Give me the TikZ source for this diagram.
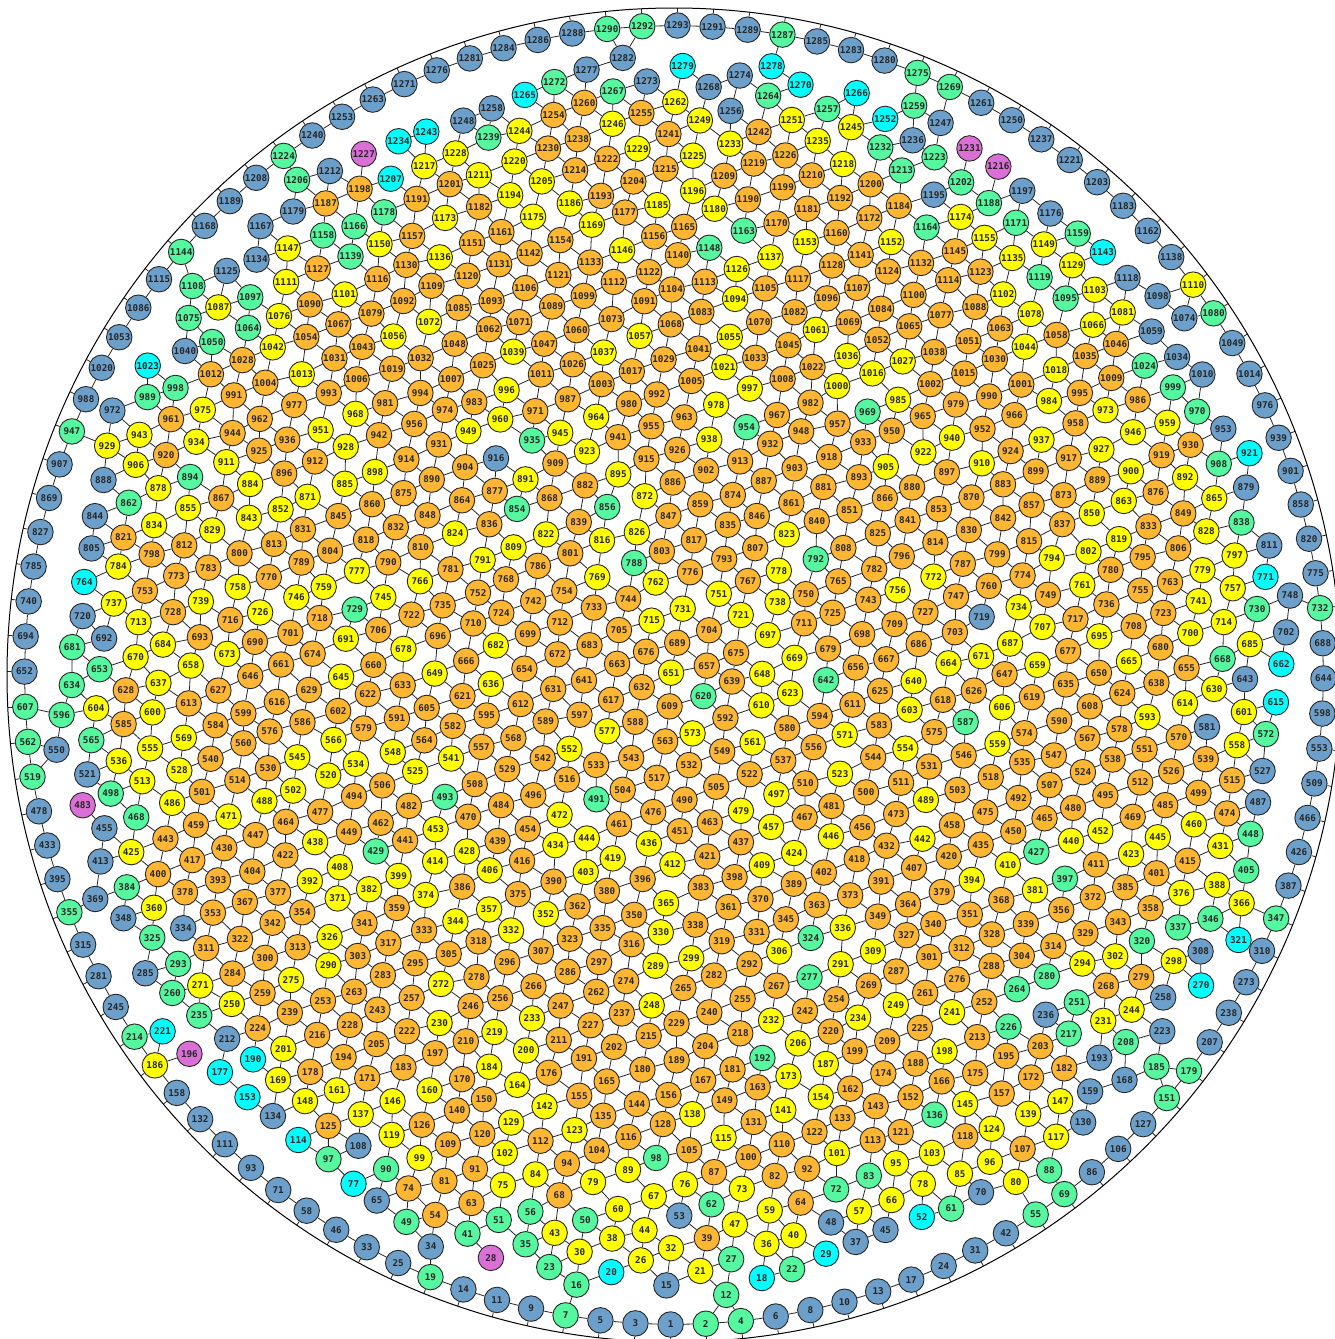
\documentclass[tikz,border=0pt]{standalone}
\usepackage{fontspec}
\newfontfamily\lblfont{DejaVu Sans Mono}
\pgfdeclarelayer{bg}
\pgfsetlayers{bg,main}
\definecolor{deg0}{HTML}{FF1493}
\definecolor{deg1}{HTML}{DA70D6}
\definecolor{deg2}{HTML}{00FFFF}
\definecolor{deg3}{HTML}{6CA0CB}
\definecolor{deg4}{HTML}{55F79F}
\definecolor{deg5}{HTML}{FFFF00}
\definecolor{deg6}{HTML}{FFB733}
\ExplSyntaxOn
\int_const:Nn \c_rs_n_int {1293}
\int_const:Nn \c_rs_ma_int {116}
\int_const:Nn \c_rs_l_int { \c_rs_n_int - \c_rs_ma_int }
\int_const:Nn \c_rs_astart_int { \c_rs_l_int }
\fp_const:Nn \c_rs_cx_fp {674}
\fp_const:Nn \c_rs_cy_fp {675}
\fp_const:Nn \c_rs_rw_fp {667}
\fp_const:Nn \c_rs_ra_fp {649.5}
\fp_const:Nn \c_rs_s_fp {34.4}
\fp_const:Nn \c_rs_rot_fp {-21}
\fp_const:Nn \c_rs_jit_fp {3}
\fp_const:Nn \c_rs_t_fp {38.2}
\fp_const:Nn \c_rs_tr_fp {36}
\fp_const:Nn \c_rs_offa_fp {0.3}
\fp_const:Nn \c_rs_pmax_fp {0.3}
\fp_new:N \l_rs_u_fp
\fp_new:N \l_rs_v_fp
\fp_new:N \l_rs_r_fp
\fp_new:N \l_rs_p_fp
\fp_new:N \l_rs_a_fp
\int_new:N \l_rs_i_int
\int_new:N \l_rs_j_int
\int_new:N \l_rs_k_int
\int_new:N \l_rs_cnt_int
\fparray_new:Nn \g_rs_x_fparray {1293}
\fparray_new:Nn \g_rs_y_fparray {1293}
\intarray_new:Nn \g_rs_deg_intarray {1293}
\intarray_new:Nn \g_rs_lab_intarray {1293}
\intarray_new:Nn \g_rs_gi_intarray {1293}
\intarray_new:Nn \g_rs_gj_intarray {1293}
\intarray_new:Nn \g_rs_cell_intarray {2745}
\seq_new:N \g_rs_edges_seq
\seq_new:N \l_rs_sort_seq
\seq_new:N \l_rs_cand_seq

\cs_new:Npn \rs_frac:n #1 { ( (#1) - floor(#1) ) }
\cs_new:Npn \rs_hash:n #1 { \rs_frac:n { 43758.5453 * abs( sin( (#1) * 12.9898 + 1.2345 ) ) } }
\cs_new:Npn \rs_rsq:n #1
  { ( ( \fparray_item:Nn \g_rs_x_fparray {#1} - \c_rs_cx_fp )^2
      + ( \fparray_item:Nn \g_rs_y_fparray {#1} - \c_rs_cy_fp )^2 ) }

% ---- outer ring (touching the wall)
\int_step_inline:nn { \c_rs_ma_int }
  {
    \fp_set:Nn \l_rs_a_fp { \c_rs_offa_fp + (#1 - 1) * 360 / \c_rs_ma_int }
    \fparray_gset:Nnn \g_rs_x_fparray { \c_rs_astart_int + #1 } { \c_rs_cx_fp + \c_rs_ra_fp * cosd(\l_rs_a_fp) }
    \fparray_gset:Nnn \g_rs_y_fparray { \c_rs_astart_int + #1 } { \c_rs_cy_fp + \c_rs_ra_fp * sind(\l_rs_a_fp) }
    \intarray_gset:Nnn \g_rs_deg_intarray { \c_rs_astart_int + #1 } { 1 }
  }

% ---- hexagonal core
\int_step_inline:nnnn { -22 } { 1 } { 22 }
  {
    \int_step_inline:nnnn { -30 } { 1 } { 30 }
      {
        \fp_set:Nn \l_rs_u_fp { \c_rs_s_fp * ( (##1) + (#1) / 2 ) }
        \fp_set:Nn \l_rs_v_fp { \c_rs_s_fp * 0.8660254 * (#1) }
        \fp_set:Nn \l_rs_r_fp { sqrt( \l_rs_u_fp^2 + \l_rs_v_fp^2 ) }
        \fp_compare:nNnT { \l_rs_r_fp } < { 640 }
          {
            \seq_put_right:Nx \l_rs_cand_seq
              { { \fp_eval:n { \l_rs_r_fp } } { \int_eval:n { ##1 } } { \int_eval:n { #1 } } }
          }
      }
  }
\seq_sort:Nn \l_rs_cand_seq
  {
    \fp_compare:nNnTF { \use_i:nnn #1 } > { \use_i:nnn #2 }
      { \sort_return_swapped: } { \sort_return_same: }
  }
\cs_new_protected:Npn \rs_place:nnnn #1#2#3#4
  {
    \intarray_gset:Nnn \g_rs_cell_intarray { (#3 + 30) * 45 + #4 + 22 + 1 } {#1}
    \intarray_gset:Nnn \g_rs_gi_intarray {#1} { #3 + 100 }
    \intarray_gset:Nnn \g_rs_gj_intarray {#1} { #4 + 100 }
    \fp_set:Nn \l_rs_u_fp { \c_rs_s_fp * ( (#3) + (#4) / 2 ) }
    \fp_set:Nn \l_rs_v_fp { \c_rs_s_fp * 0.8660254 * (#4) }
    \fparray_gset:Nnn \g_rs_x_fparray {#1}
      { \c_rs_cx_fp + \l_rs_u_fp * cosd(\c_rs_rot_fp) - \l_rs_v_fp * sind(\c_rs_rot_fp)
        + \c_rs_jit_fp * ( 2 * \rs_hash:n { 2 * (#1) } - 1 ) }
    \fparray_gset:Nnn \g_rs_y_fparray {#1}
      { \c_rs_cy_fp + \l_rs_u_fp * sind(\c_rs_rot_fp) + \l_rs_v_fp * cosd(\c_rs_rot_fp)
        + \c_rs_jit_fp * ( 2 * \rs_hash:n { 2 * (#1) + 1 } - 1 ) }
  }
\int_zero:N \l_rs_cnt_int
\seq_map_inline:Nn \l_rs_cand_seq
  {
    \int_compare:nNnT { \l_rs_cnt_int } < { \c_rs_l_int }
      {
        \int_incr:N \l_rs_cnt_int
        \rs_place:nnnn { \l_rs_cnt_int } #1
      }
  }

% ---- contacts
\cs_new_protected:Npn \rs_add:nn #1#2
  {
    \seq_gput_right:Nx \g_rs_edges_seq { { \int_eval:n {#1} } { \int_eval:n {#2} } }
    \intarray_gset:Nnn \g_rs_deg_intarray {#1} { \intarray_item:Nn \g_rs_deg_intarray {#1} + 1 }
    \intarray_gset:Nnn \g_rs_deg_intarray {#2} { \intarray_item:Nn \g_rs_deg_intarray {#2} + 1 }
  }
\cs_new:Npn \rs_dsq:nn #1#2
  {
    ( \fparray_item:Nn \g_rs_x_fparray {#1} - \fparray_item:Nn \g_rs_x_fparray {#2} )^2
    + ( \fparray_item:Nn \g_rs_y_fparray {#1} - \fparray_item:Nn \g_rs_y_fparray {#2} )^2
  }
% contact test with occasional loss of contact near the wall
\cs_new_protected:Npn \rs_check:nnn #1#2#3
  {
    \fp_compare:nNnT { \rs_dsq:nn {#1} {#2} } < { (#3)^2 }
      {
        \fp_set:Nn \l_rs_p_fp { sqrt( min( \rs_rsq:n {#1} , \rs_rsq:n {#2} ) ) }
        \fp_set:Nn \l_rs_p_fp { \c_rs_pmax_fp * min( 1 , max( 0 , ( \l_rs_p_fp - 500 ) / 110 ) ) }
        \fp_compare:nNnT { \rs_hash:n { (#1) * 1.37 + (#2) * 0.731 + 0.5 } } > { \l_rs_p_fp }
          { \rs_add:nn {#1} {#2} }
      }
  }
\cs_new_protected:Npn \rs_check_keep:nnn #1#2#3
  {
    \fp_compare:nNnT { \rs_dsq:nn {#1} {#2} } < { (#3)^2 }
      { \rs_add:nn {#1} {#2} }
  }
\cs_new_protected:Npn \rs_lat_nb:nnn #1#2#3
  {
    \int_set:Nn \l_rs_i_int { \intarray_item:Nn \g_rs_gi_intarray {#1} - 100 + (#2) }
    \int_set:Nn \l_rs_j_int { \intarray_item:Nn \g_rs_gj_intarray {#1} - 100 + (#3) }
    \bool_if:nT
      {
        \int_compare_p:nNn { \int_abs:n { \l_rs_i_int } } < { 31 }
        && \int_compare_p:nNn { \int_abs:n { \l_rs_j_int } } < { 23 }
      }
      {
        \int_set:Nn \l_rs_k_int
          { \intarray_item:Nn \g_rs_cell_intarray { (\l_rs_i_int + 30) * 45 + \l_rs_j_int + 22 + 1 } }
        \int_compare:nNnT { \l_rs_k_int } > { 0 }
          { \rs_check:nnn {#1} { \l_rs_k_int } { \c_rs_t_fp } }
      }
  }
\int_step_inline:nn { \c_rs_l_int }
  {
    \rs_lat_nb:nnn {#1} {1} {0}
    \rs_lat_nb:nnn {#1} {0} {1}
    \rs_lat_nb:nnn {#1} {-1} {1}
  }
% core - outer ring
\int_step_inline:nn { \c_rs_l_int }
  {
    \fp_set:Nn \l_rs_u_fp { \fparray_item:Nn \g_rs_x_fparray {#1} - \c_rs_cx_fp }
    \fp_set:Nn \l_rs_v_fp { \fparray_item:Nn \g_rs_y_fparray {#1} - \c_rs_cy_fp }
    \fp_compare:nNnT { \l_rs_u_fp^2 + \l_rs_v_fp^2 } > { 540^2 }
      {
        \fp_set:Nn \l_rs_a_fp { atand( \l_rs_v_fp , \l_rs_u_fp ) }
        \fp_compare:nNnT { \l_rs_a_fp } < { 0 }
          { \fp_set:Nn \l_rs_a_fp { \l_rs_a_fp + 360 } }
        \int_set:Nn \l_rs_i_int
          { \fp_eval:n { floor( (\l_rs_a_fp - \c_rs_offa_fp) * \c_rs_ma_int / 360 ) } }
        \int_step_inline:nnnn { -1 } { 1 } { 2 }
          {
            \rs_check:nnn {#1}
              { \c_rs_astart_int + 1 + \int_mod:nn { \l_rs_i_int + ##1 + \c_rs_ma_int } { \c_rs_ma_int } }
              { \c_rs_t_fp }
          }
      }
  }
% outer ring chain
\int_step_inline:nn { \c_rs_ma_int }
  {
    \rs_check_keep:nnn { \c_rs_astart_int + #1 }
      { \c_rs_astart_int + 1 + \int_mod:nn {#1} { \c_rs_ma_int } } { \c_rs_tr_fp }
  }

% ---- labels: rank by vertical position, bottom first
\int_step_inline:nn { \c_rs_n_int } { \seq_put_right:Nn \l_rs_sort_seq {#1} }
\seq_sort:Nn \l_rs_sort_seq
  {
    \fp_compare:nNnTF { \fparray_item:Nn \g_rs_y_fparray {#1} } < { \fparray_item:Nn \g_rs_y_fparray {#2} }
      { \sort_return_swapped: } { \sort_return_same: }
  }
\int_zero:N \l_rs_cnt_int
\seq_map_inline:Nn \l_rs_sort_seq
  {
    \int_incr:N \l_rs_cnt_int
    \intarray_gset:Nnn \g_rs_lab_intarray {#1} { \l_rs_cnt_int }
  }

% ---- drawing
\cs_new_protected:Npn \rs_node:n #1
  {
    \use:e
      {
        \exp_not:N \node [rsnode,fill=deg \int_min:nn {6} { \intarray_item:Nn \g_rs_deg_intarray {#1} } ]
          ~(n \intarray_item:Nn \g_rs_lab_intarray {#1})~at~
          ( \fp_eval:n { round( \fparray_item:Nn \g_rs_x_fparray {#1} , 2) } ,
            \fp_eval:n { round( \fparray_item:Nn \g_rs_y_fparray {#1} , 2) } )
          { \intarray_item:Nn \g_rs_lab_intarray {#1} } ;
      }
  }
\cs_new_protected:Npn \rs_edge:nn #1#2
  {
    \use:e
      {
        \exp_not:N \draw [rsedge] ~ (n \intarray_item:Nn \g_rs_lab_intarray {#1})
          -- (n \intarray_item:Nn \g_rs_lab_intarray {#2}) ;
      }
  }
\cs_new_protected:Npn \rs_wall:n #1
  {
    \fp_set:Nn \l_rs_a_fp { \c_rs_offa_fp + (#1 - 1) * 360 / \c_rs_ma_int }
    \use:e
      {
        \exp_not:N \coordinate ~ (w \intarray_item:Nn \g_rs_lab_intarray { \c_rs_astart_int + #1 }) ~at~
          ( \fp_eval:n { round( \c_rs_cx_fp + \c_rs_rw_fp * cosd(\l_rs_a_fp) , 2) } ,
            \fp_eval:n { round( \c_rs_cy_fp + \c_rs_rw_fp * sind(\l_rs_a_fp) , 2) } ) ;
        \exp_not:N \draw [rsedge] ~ (n \intarray_item:Nn \g_rs_lab_intarray { \c_rs_astart_int + #1 })
          -- (w \intarray_item:Nn \g_rs_lab_intarray { \c_rs_astart_int + #1 }) ;
      }
  }
\cs_new_protected:Npn \rsDraw
  {
    \int_step_inline:nn { \c_rs_n_int } { \rs_node:n {##1} }
    \begin{pgfonlayer}{bg}
    \seq_map_inline:Nn \g_rs_edges_seq { \rs_edge:nn ##1 }
    \int_step_inline:nn { \c_rs_ma_int } { \rs_wall:n {##1} }
    \end{pgfonlayer}
  }
\ExplSyntaxOff
\begin{document}
\begin{tikzpicture}[x=1pt,y=-1pt,
  rsnode/.style={circle, draw=black!85, line width=0.9pt, minimum size=25.5pt, inner sep=0pt,
    font={\lblfont\bfseries\fontsize{9.3pt}{9.3pt}\selectfont}, text=black!85},
  rsedge/.style={draw=black!85, line width=0.8pt}]
\useasboundingbox (0,0) rectangle (1335,1339);
\draw[line width=1pt] (674,675) circle[radius=667pt];
\rsDraw
\end{tikzpicture}
\end{document}
